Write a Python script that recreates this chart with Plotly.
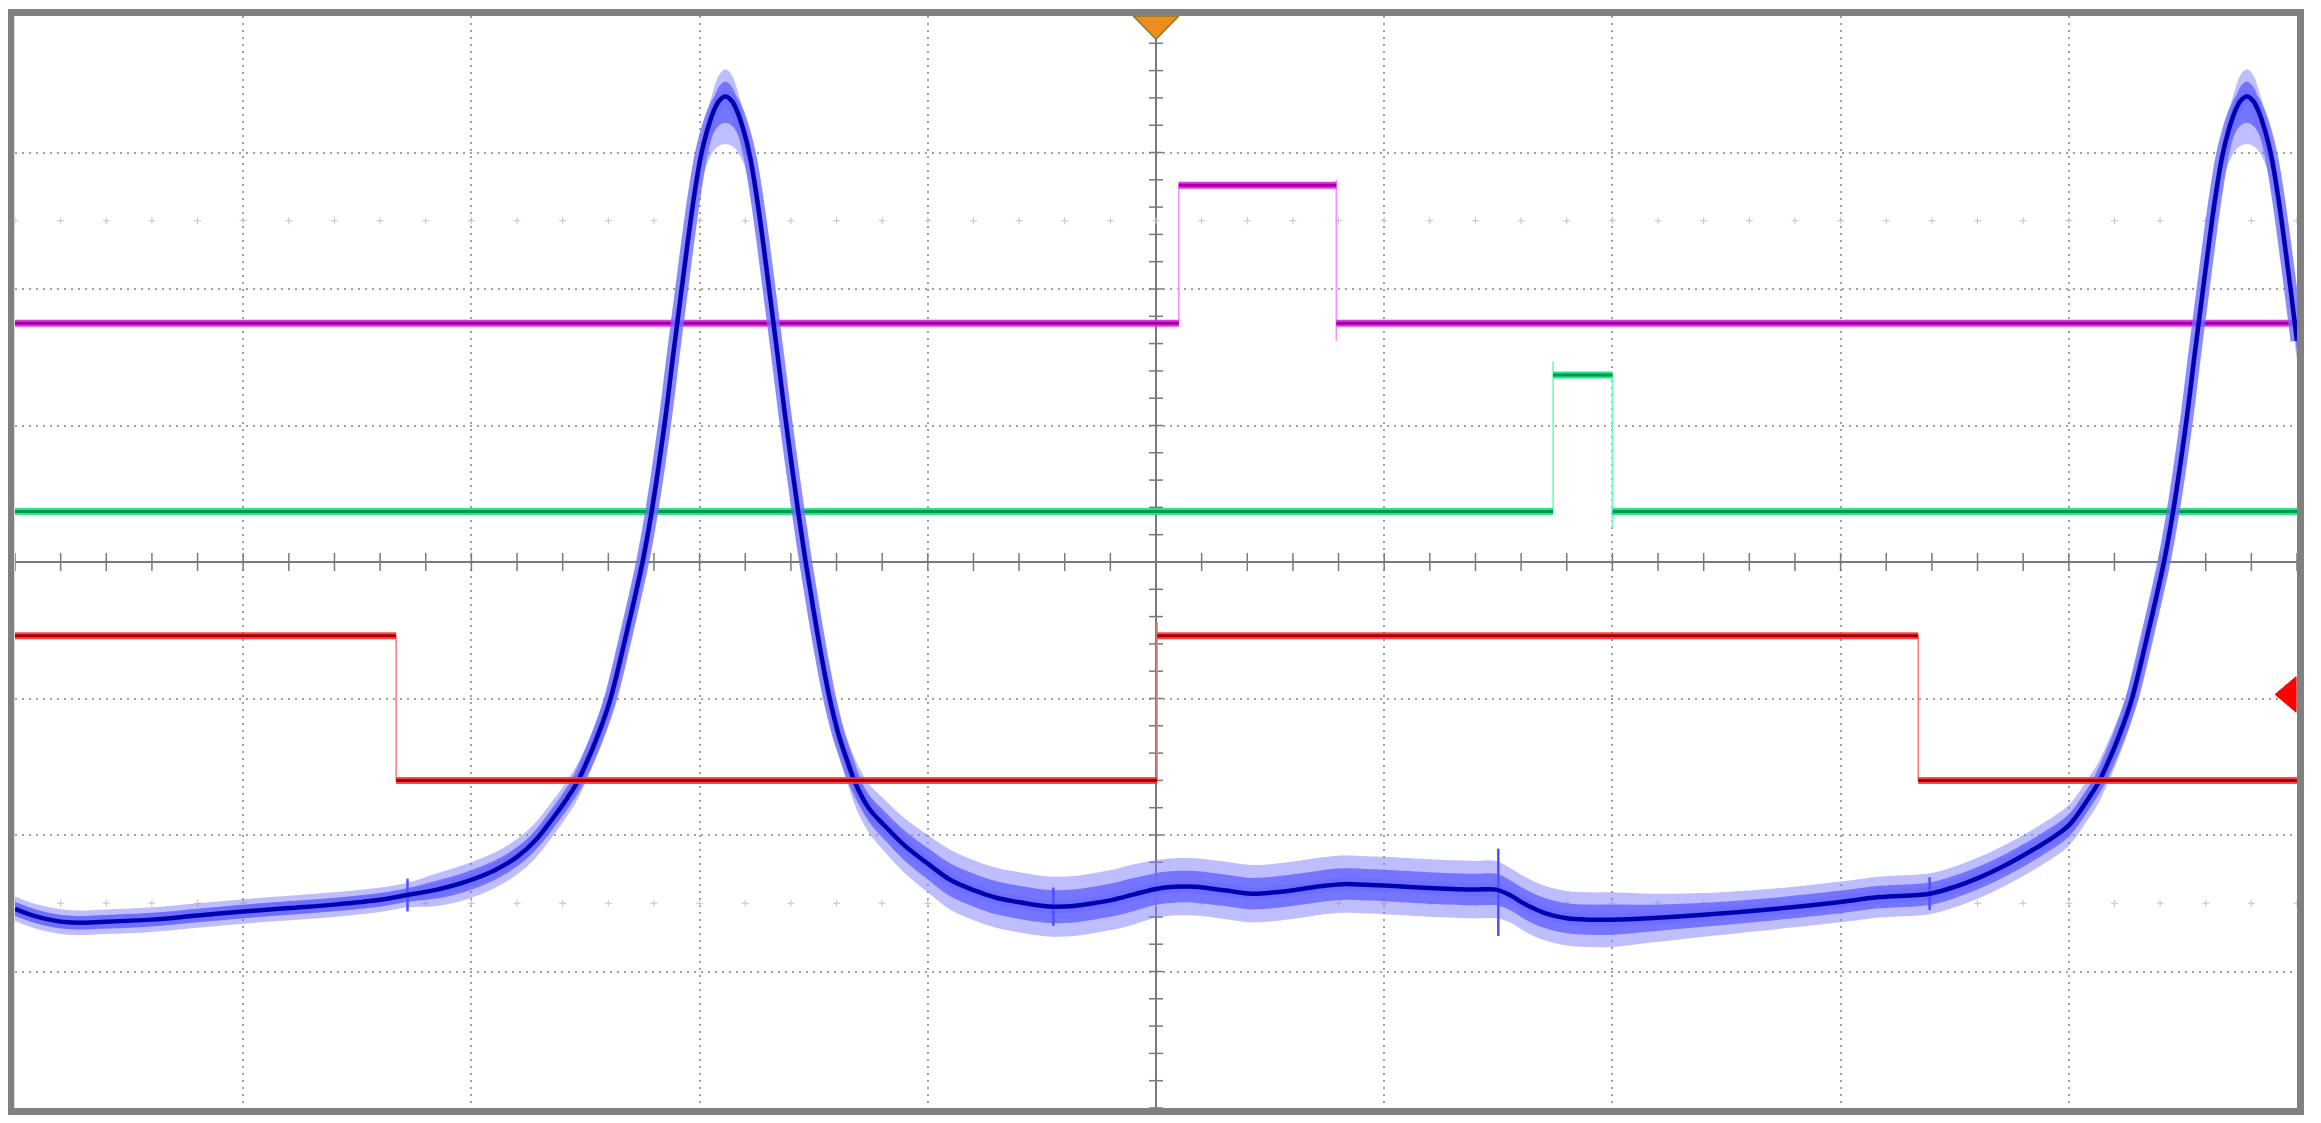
import numpy as np
import plotly.graph_objects as go

# ── Graticule (in screen divisions) ───────────────────────────────────────────
X_RANGE = [-5, 5]
Y_RANGE = [-4, 4]
GRID_X = [-4, -3, -2, -1, 0, 1, 2, 3, 4]
GRID_Y = [-3, -2, -1, 0, 1, 2, 3]
MINOR_X = np.round(np.arange(-5, 5.001, 0.2), 1)
MINOR_Y = np.round(np.arange(-4, 4.001, 0.2), 1)
MARK_ROWS = [2.5, -2.5]

# ── Blue channel (resonant current) ───────────────────────────────────────────
BLUE_X = [-5.0, -4.9, -4.77, -4.6, -4.4, -4.2, -4.0, -3.8, -3.6, -3.4,
          -3.28, -3.15, -3.02, -2.90, -2.80, -2.72, -2.64, -2.58, -2.535, -2.47,
          -2.43, -2.39, -2.32, -2.25, -2.21, -2.148, -2.117, -2.084, -2.054, -2.024,
          -1.995, -1.967, -1.939, -1.914, -1.887, -1.86, -1.835, -1.807, -1.779, -1.750,
          -1.720, -1.690, -1.657, -1.626, -1.568, -1.535, -1.50, -1.465, -1.43, -1.39,
          -1.35, -1.32, -1.26, -1.19, -1.10, -1.0, -0.9, -0.79, -0.70, -0.61,
          -0.52, -0.45, -0.36, -0.275, -0.19, -0.096, 0.0, 0.08, 0.17, 0.30,
          0.42, 0.52, 0.62, 0.72, 0.82, 0.92, 1.0, 1.22, 1.40, 1.49,
          1.55, 1.62, 1.70, 1.80, 1.895, 2.0, 2.16, 2.40, 2.72, 3.0,
          3.17, 3.39, 3.50, 3.61, 3.70, 3.80, 3.90, 4.0, 4.087, 4.132,
          4.197, 4.237, 4.277, 4.347, 4.417, 4.457, 4.519, 4.55, 4.583,
          4.613, 4.643, 4.672, 4.70, 4.728, 4.753, 4.78, 4.807, 4.832, 4.86,
          4.888, 4.917, 4.947, 4.977, 5.0]
BLUE_Y = [-2.54, -2.60, -2.64, -2.635, -2.62, -2.59, -2.56, -2.535, -2.51, -2.475,
          -2.44, -2.40, -2.34, -2.26, -2.16, -2.04, -1.87, -1.73, -1.61, -1.37,
          -1.20, -1.0, -0.52, 0.0, 0.37, 1.08, 1.50, 1.93, 2.32, 2.68,
          2.97, 3.16, 3.30, 3.38, 3.41, 3.38, 3.30, 3.16, 2.97, 2.68,
          2.32, 1.93, 1.50, 1.08, 0.37, 0.0, -0.36, -0.70, -1.0, -1.27,
          -1.47, -1.61, -1.80, -1.93, -2.08, -2.21, -2.33, -2.41, -2.46, -2.49,
          -2.515, -2.525, -2.52, -2.50, -2.475, -2.435, -2.395, -2.38, -2.38, -2.405,
          -2.43, -2.42, -2.40, -2.375, -2.36, -2.365, -2.37, -2.39, -2.40, -2.40,
          -2.44, -2.51, -2.57, -2.61, -2.62, -2.62, -2.61, -2.585, -2.54, -2.49,
          -2.455, -2.43, -2.38, -2.31, -2.24, -2.15, -2.05, -1.93, -1.73, -1.61,
          -1.37, -1.20, -1.0, -0.52, 0.0, 0.37, 1.08, 1.50, 1.93,
          2.32, 2.68, 2.97, 3.16, 3.30, 3.38, 3.41, 3.38, 3.30, 3.16,
          2.97, 2.68, 2.32, 1.93, 1.62]
BLUE_NOISE_UP = [0.09, 0.09, 0.09, 0.09, 0.09, 0.09, 0.09, 0.09, 0.09, 0.09,
                 0.09, 0.12, 0.13, 0.13, 0.13, 0.13, 0.13, 0.13, 0.13, 0.13,
                 0.14, 0.14, 0.14, 0.14, 0.14, 0.14, 0.14, 0.14, 0.14, 0.13,
                 0.12, 0.13, 0.16, 0.19, 0.20, 0.19, 0.16, 0.13, 0.12, 0.13,
                 0.14, 0.14, 0.14, 0.14, 0.14, 0.14, 0.14, 0.14, 0.14, 0.15,
                 0.16, 0.17, 0.18, 0.19, 0.20, 0.21, 0.22, 0.22, 0.22, 0.22,
                 0.22, 0.22, 0.22, 0.22, 0.22, 0.22, 0.21, 0.21, 0.21, 0.21,
                 0.21, 0.21, 0.21, 0.21, 0.21, 0.21, 0.21, 0.21, 0.21, 0.21,
                 0.20, 0.20, 0.20, 0.20, 0.20, 0.20, 0.18, 0.16, 0.15, 0.15,
                 0.15, 0.15, 0.15, 0.15, 0.15, 0.15, 0.15, 0.15, 0.15, 0.15,
                 0.15, 0.15, 0.15, 0.15, 0.15, 0.15, 0.15, 0.15, 0.15,
                 0.14, 0.13, 0.12, 0.13, 0.16, 0.19, 0.20, 0.19, 0.16, 0.13,
                 0.12, 0.13, 0.14, 0.14, 0.15]
BLUE_NOISE_DN = [0.09, 0.09, 0.09, 0.09, 0.09, 0.09, 0.09, 0.09, 0.09, 0.09,
                 0.09, 0.12, 0.13, 0.13, 0.13, 0.13, 0.13, 0.13, 0.13, 0.13,
                 0.14, 0.14, 0.14, 0.14, 0.14, 0.14, 0.14, 0.14, 0.15, 0.17,
                 0.20, 0.24, 0.29, 0.33, 0.35, 0.33, 0.29, 0.24, 0.20, 0.17,
                 0.15, 0.14, 0.14, 0.14, 0.14, 0.14, 0.14, 0.14, 0.14, 0.15,
                 0.16, 0.17, 0.18, 0.19, 0.20, 0.21, 0.22, 0.22, 0.22, 0.22,
                 0.22, 0.22, 0.22, 0.22, 0.22, 0.22, 0.21, 0.21, 0.21, 0.21,
                 0.21, 0.21, 0.21, 0.21, 0.21, 0.21, 0.21, 0.21, 0.21, 0.21,
                 0.20, 0.20, 0.20, 0.20, 0.20, 0.20, 0.18, 0.16, 0.15, 0.15,
                 0.15, 0.15, 0.15, 0.15, 0.15, 0.15, 0.15, 0.15, 0.15, 0.15,
                 0.15, 0.15, 0.15, 0.15, 0.15, 0.15, 0.15, 0.15, 0.15,
                 0.15, 0.17, 0.20, 0.24, 0.29, 0.33, 0.35, 0.33, 0.29, 0.24,
                 0.20, 0.17, 0.15, 0.15, 0.15]
GLITCH_X = [-3.28, -0.45, 1.50, 3.39]
GLITCH_Y = [-2.44, -2.525, -2.42, -2.43]
GLITCH_SPAN = [0.12, 0.14, 0.32, 0.12]

# ── Logic channels: edge times and levels ─────────────────────────────────────
MAG_EDGES = [-5.0, 0.10, 0.79, 5.0]
MAG_LEVELS = [1.75, 2.76, 1.75]
MAG_SPIKE = [(0.0, 0.02), (0.13, 0.04)]   # (below, above) per transition

GRN_EDGES = [-5.0, 1.74, 2.0, 5.0]
GRN_LEVELS = [0.37, 1.37, 0.37]
GRN_SPIKE = [(0.0, 0.10), (0.12, 0.0)]

RED_EDGES = [-5.0, -3.33, 0.005, 3.34, 5.0]
RED_LEVELS = [-0.54, -1.60, -0.54, -1.60]
RED_SPIKE = [(0.0, 0.0), (0.0, 0.10), (0.0, 0.0)]

# ── Screen markers ────────────────────────────────────────────────────────────
TRIG_X = [-0.10, 0.10, 0.0, -0.10]
TRIG_Y = [4.0, 4.0, 3.83, 4.0]
GND_X = [4.996, 4.996, 4.904, 4.996]
GND_Y = [-0.84, -1.10, -0.97, -0.84]

GRID_COL = "#a0a0a0"
AXIS_COL = "#7a7a7a"
SPLINE = dict(shape="spline", smoothing=1.0)


def step_parts(edges, levels, spikes):
    hx, hy, vx, vy = [], [], [], []
    for i, lv in enumerate(levels):
        hx += [edges[i], edges[i + 1], None]
        hy += [lv, lv, None]
    for i in range(len(levels) - 1):
        lo, hi = min(levels[i], levels[i + 1]), max(levels[i], levels[i + 1])
        vx += [edges[i + 1], edges[i + 1], None]
        vy += [lo - spikes[i][0], hi + spikes[i][1], None]
    return hx, hy, vx, vy


def add_channel(fig, edges, levels, spikes, halo, core, edge_col):
    hx, hy, vx, vy = step_parts(edges, levels, spikes)
    fig.add_trace(go.Scatter(x=vx, y=vy, mode="lines",
                             line=dict(color=edge_col, width=1.6), hoverinfo="skip"))
    fig.add_trace(go.Scatter(x=hx, y=hy, mode="lines",
                             line=dict(color=halo, width=7), hoverinfo="skip"))
    fig.add_trace(go.Scatter(x=hx, y=hy, mode="lines",
                             line=dict(color=core, width=3), hoverinfo="skip"))


fig = go.Figure()

# graticule marks
fig.add_trace(go.Scatter(
    x=np.tile(MINOR_X, len(MARK_ROWS)), y=np.repeat(MARK_ROWS, len(MINOR_X)),
    mode="markers", marker=dict(symbol="cross-thin", size=5,
                                line=dict(width=1, color="#c4c4c4")),
    hoverinfo="skip"))
fig.add_trace(go.Scatter(
    x=MINOR_X, y=np.zeros(len(MINOR_X)), mode="markers",
    marker=dict(symbol="line-ns", size=13, line=dict(width=1.5, color=AXIS_COL)),
    hoverinfo="skip"))
fig.add_trace(go.Scatter(
    x=np.zeros(len(MINOR_Y)), y=MINOR_Y, mode="markers",
    marker=dict(symbol="line-ew", size=10, line=dict(width=1.5, color=AXIS_COL)),
    hoverinfo="skip"))

# green and magenta logic traces
add_channel(fig, GRN_EDGES, GRN_LEVELS, GRN_SPIKE,
            "rgba(30,230,130,0.95)", "#009a4e", "#70ffb0")
add_channel(fig, MAG_EDGES, MAG_LEVELS, MAG_SPIKE,
            "rgba(230,40,230,0.95)", "#9c009c", "#ff8cff")

# blue resonant trace with noise envelope
by = np.array(BLUE_Y)
up = np.array(BLUE_NOISE_UP)
dn = np.array(BLUE_NOISE_DN)
for scale, col in [(1.0, "rgba(125,125,255,0.5)"), (0.55, "rgba(105,105,255,0.85)")]:
    fig.add_trace(go.Scatter(x=BLUE_X, y=by - dn * scale, mode="lines",
                             line=dict(width=0, **SPLINE), hoverinfo="skip"))
    fig.add_trace(go.Scatter(x=BLUE_X, y=by + up * scale, mode="lines",
                             line=dict(width=0, **SPLINE),
                             fill="tonexty", fillcolor=col, hoverinfo="skip"))
fig.add_trace(go.Scatter(x=BLUE_X, y=BLUE_Y, mode="lines",
                         line=dict(color="rgba(110,110,255,0.8)", width=13, **SPLINE),
                         hoverinfo="skip"))
fig.add_trace(go.Scatter(
    x=GLITCH_X, y=GLITCH_Y, mode="markers", marker=dict(size=1, color="#3a3aff"),
    error_y=dict(type="data", array=GLITCH_SPAN, color="#5050ff", thickness=2.5, width=0),
    hoverinfo="skip"))
fig.add_trace(go.Scatter(x=BLUE_X, y=BLUE_Y, mode="lines",
                         line=dict(color="#0000b0", width=4.5, **SPLINE),
                         hoverinfo="skip"))

# red logic trace on top
add_channel(fig, RED_EDGES, RED_LEVELS, RED_SPIKE,
            "rgba(255,50,50,0.9)", "#a50000", "#ff8080")

# trigger and ground markers
fig.add_trace(go.Scatter(x=TRIG_X, y=TRIG_Y, mode="lines", fill="toself",
                         fillcolor="#ee8c1e", line=dict(color="#8a7a2a", width=1.5),
                         hoverinfo="skip", cliponaxis=False))
fig.add_trace(go.Scatter(x=GND_X, y=GND_Y, mode="lines", fill="toself",
                         fillcolor="#ff0000", line=dict(color="#ff0000", width=1),
                         hoverinfo="skip"))

axis_common = dict(showticklabels=False, ticks="", showgrid=True,
                   gridcolor=GRID_COL, gridwidth=1.5, griddash="2px,5px",
                   zeroline=True, zerolinecolor=AXIS_COL, zerolinewidth=1.5,
                   showline=True, linecolor="#dcdcdc", linewidth=1, mirror=True)

# the page body adds an 8px offset, so margins are reduced by that amount
fig.update_layout(
    width=2305, height=1107,
    paper_bgcolor="white", plot_bgcolor="white",
    margin=dict(l=7, r=16, t=8, b=7),
    showlegend=False,
    xaxis=dict(range=X_RANGE, tickvals=GRID_X, **axis_common),
    yaxis=dict(range=Y_RANGE, tickvals=GRID_Y, **axis_common),
    shapes=[dict(type="rect", xref="paper", yref="paper",
                 x0=-0.00197, x1=1.00153, y0=-0.0032, y1=1.00321,
                 line=dict(color="#808080", width=7), layer="above")],
)

fig.write_html("out.html")
